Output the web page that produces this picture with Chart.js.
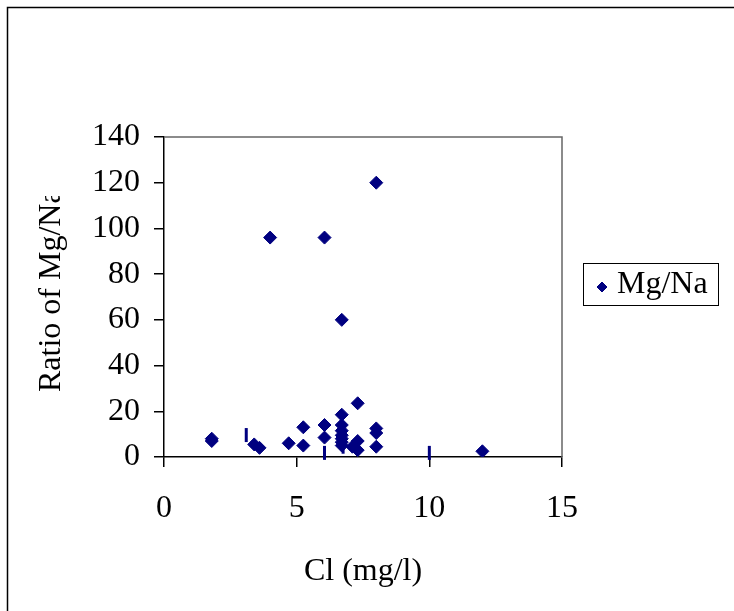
<!DOCTYPE html>
<html>
<head>
<meta charset="utf-8">
<title>Ratio of Mg/Na against Cl</title>
<script src="https://cdn.jsdelivr.net/npm/chart.js@4/dist/chart.umd.min.js"></script>
<style>
  html, body { margin: 0; padding: 0; background: #fff; overflow: hidden; }
</style>
</head>
<body>
<canvas id="myChart" width="734" height="611"></canvas>
<script>
// Cl concentration (mg/l) for each sample
const xCl = [1.8, 1.8, 3.4, 3.6, 4.0, 4.7, 5.25, 5.25, 6.05, 6.05, 6.05,
  6.7, 6.7, 6.7, 6.7, 6.7, 6.7, 6.7, 6.7, 7.1, 7.3, 7.3, 7.3, 8.0, 8.0, 8.0, 8.0, 12.0];
// Mg/Na ratio for each sample
const ratioMgNa = [8, 7, 5.5, 4, 96, 6, 13, 5, 96, 14, 8.5,
  60, 18.5, 14, 11.5, 9.5, 8, 6.5, 5, 4.5, 23.5, 7, 3, 120, 12.5, 10.5, 4.5, 2.5];

// stray dash marks left in the plot
const dashX = [3.1, 6.05, 6.75, 10.0];
const dashY = [9.6, 1.8, 4.5, 1.8];

const xTicks = [0, 5, 10, 15];
const yTicks = [0, 20, 40, 60, 80, 100, 120, 140];

const seriesName = 'Mg/Na';
const xTitle = 'Cl (mg/l)';
const yTitle = 'Ratio of Mg/Na';

const NAVY = '#000080';
const FONT = "'Liberation Serif', 'Times New Roman', serif";

Chart.defaults.font.family = FONT;
Chart.defaults.font.size = 32;
Chart.defaults.color = '#000';

// outer frame, plot box, clipped y title and the boxed legend
const framePlugin = {
  id: 'frame',
  beforeDraw(chart) {
    const ctx = chart.ctx;
    ctx.save();
    ctx.fillStyle = '#fff';
    ctx.fillRect(0, 0, chart.width, chart.height);
    ctx.strokeStyle = '#000';
    ctx.lineWidth = 1.5;
    ctx.beginPath();
    ctx.moveTo(7.5, chart.height + 5);
    ctx.lineTo(7.5, 7.5);
    ctx.lineTo(chart.width + 5, 7.5);
    ctx.stroke();
    ctx.restore();
  },
  beforeDatasetsDraw(chart) {
    const a = chart.chartArea;
    const ctx = chart.ctx;
    ctx.save();
    ctx.strokeStyle = '#666';
    ctx.lineWidth = 1.5;
    ctx.beginPath();
    ctx.moveTo(a.left, a.top);
    ctx.lineTo(a.right, a.top);
    ctx.lineTo(a.right, a.bottom);
    ctx.stroke();
    ctx.restore();
  },
  afterDraw(chart) {
    const ctx = chart.ctx;

    // y title, cut off at the end like the original box
    ctx.save();
    ctx.beginPath();
    ctx.rect(0, 196, 130, 400);
    ctx.clip();
    ctx.translate(52, 392);
    ctx.rotate(-Math.PI / 2);
    ctx.font = '32px ' + FONT;
    ctx.fillStyle = '#000';
    ctx.textAlign = 'left';
    ctx.textBaseline = 'middle';
    ctx.fillText(yTitle, 0, 0);
    ctx.restore();

    // legend
    const ds = chart.data.datasets[0];
    ctx.save();
    ctx.strokeStyle = '#000';
    ctx.lineWidth = 1;
    ctx.strokeRect(583.5, 263.5, 135, 42);
    ctx.fillStyle = ds.backgroundColor;
    ctx.strokeStyle = ds.borderColor;
    Chart.helpers.drawPoint(ctx, { pointStyle: 'rectRot', radius: 5, borderWidth: 1, rotation: 0 }, 602, 287);
    ctx.fillStyle = '#000';
    ctx.font = '32px ' + FONT;
    ctx.textAlign = 'left';
    ctx.textBaseline = 'alphabetic';
    ctx.fillText(ds.label, 617, 293);
    ctx.restore();
  }
};

const data = {
  datasets: [
    {
      label: seriesName,
      data: xCl.map((x, i) => ({ x: x, y: ratioMgNa[i] })),
      pointStyle: 'rectRot',
      pointRadius: 6.5,
      pointBorderWidth: 1,
      backgroundColor: NAVY,
      borderColor: NAVY
    },
    {
      label: 'dash',
      data: dashX.map((x, i) => ({ x: x, y: dashY[i] })),
      pointStyle: 'line',
      pointRotation: 90,
      pointRadius: 7,
      pointBorderWidth: 3,
      backgroundColor: NAVY,
      borderColor: NAVY,
      clip: false
    }
  ]
};

const config = {
  type: 'scatter',
  data: data,
  options: {
    responsive: false,
    animation: false,
    events: [],
    layout: { padding: { top: 137, right: 172, bottom: 0, left: 0 } },
    plugins: {
      legend: { display: false },
      tooltip: { enabled: false }
    },
    scales: {
      x: {
        type: 'linear',
        min: 0,
        max: 15,
        afterBuildTicks(scale) { scale.ticks = xTicks.map(v => ({ value: v })); },
        afterFit(scale) { scale.height = 154; },
        ticks: { padding: 22, color: '#000' },
        grid: { drawOnChartArea: false, tickLength: 10, color: '#000', lineWidth: 1.5 },
        border: { color: '#000', width: 1.5 },
        title: { display: true, text: xTitle, color: '#000', padding: { top: 0, bottom: 20 } }
      },
      y: {
        type: 'linear',
        min: 0,
        max: 140,
        afterBuildTicks(scale) { scale.ticks = yTicks.map(v => ({ value: v })); },
        afterFit(scale) { scale.width = 164; },
        ticks: { padding: 14, color: '#000' },
        grid: { drawOnChartArea: false, tickLength: 10, color: '#000', lineWidth: 1.5 },
        border: { color: '#000', width: 1.5 }
      }
    }
  },
  plugins: [framePlugin]
};

const myChart = new Chart(document.getElementById('myChart'), config);
</script>
</body>
</html>
